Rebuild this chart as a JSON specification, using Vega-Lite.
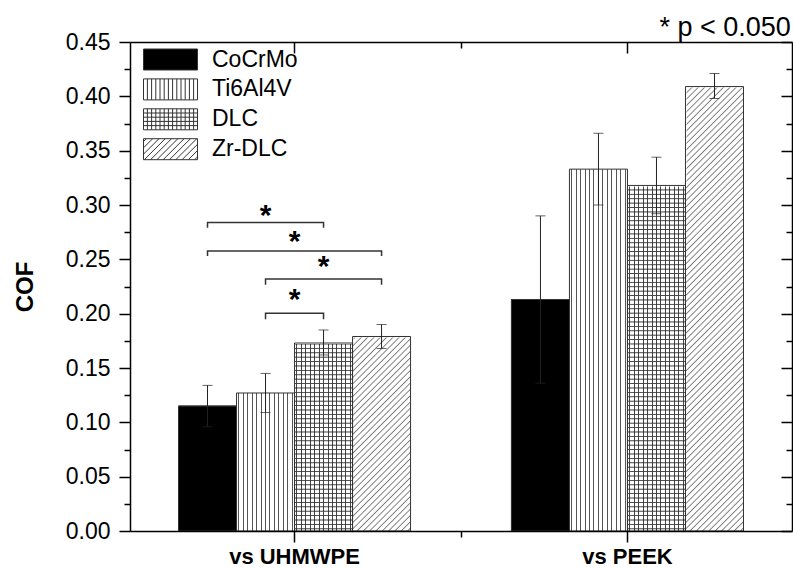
{
"$schema": "https://vega.github.io/schema/vega-lite/v6.json",
"width": 662, "height": 489,
"autosize": "none",
"padding": {"left": 130, "top": 42, "right": 1, "bottom": 37},
"background": "white",
"title": {"text": "* p < 0.050", "anchor": "end", "font": "Liberation Sans", "fontSize": 27, "fontWeight": "normal", "color": "black", "offset": 3, "dx": -4, "dy": 14},
"config": {"view": {"stroke": null}, "axis": {"grid": false}, "font": "Liberation Sans"},
"datasets": {
"bars": [
{"group": "vs UHMWPE", "material": "CoCrMo", "value": 0.115, "lo": 0.096, "hi": 0.134},
{"group": "vs UHMWPE", "material": "Ti6Al4V", "value": 0.127, "lo": 0.109, "hi": 0.145},
{"group": "vs UHMWPE", "material": "DLC", "value": 0.173, "lo": 0.162, "hi": 0.185},
{"group": "vs UHMWPE", "material": "Zr-DLC", "value": 0.179, "lo": 0.168, "hi": 0.190},
{"group": "vs PEEK", "material": "CoCrMo", "value": 0.213, "lo": 0.136, "hi": 0.290},
{"group": "vs PEEK", "material": "Ti6Al4V", "value": 0.333, "lo": 0.300, "hi": 0.366},
{"group": "vs PEEK", "material": "DLC", "value": 0.318, "lo": 0.292, "hi": 0.344},
{"group": "vs PEEK", "material": "Zr-DLC", "value": 0.409, "lo": 0.398, "hi": 0.421}
],
"brackets": [
{"bracket": 1, "ord": 1, "group": "vs UHMWPE", "material": "CoCrMo", "y": 0.279},
{"bracket": 1, "ord": 2, "group": "vs UHMWPE", "material": "CoCrMo", "y": 0.284},
{"bracket": 1, "ord": 3, "group": "vs UHMWPE", "material": "DLC", "y": 0.284},
{"bracket": 1, "ord": 4, "group": "vs UHMWPE", "material": "DLC", "y": 0.279},
{"bracket": 2, "ord": 1, "group": "vs UHMWPE", "material": "CoCrMo", "y": 0.253},
{"bracket": 2, "ord": 2, "group": "vs UHMWPE", "material": "CoCrMo", "y": 0.2577},
{"bracket": 2, "ord": 3, "group": "vs UHMWPE", "material": "Zr-DLC", "y": 0.2577},
{"bracket": 2, "ord": 4, "group": "vs UHMWPE", "material": "Zr-DLC", "y": 0.253},
{"bracket": 3, "ord": 1, "group": "vs UHMWPE", "material": "Ti6Al4V", "y": 0.2267},
{"bracket": 3, "ord": 2, "group": "vs UHMWPE", "material": "Ti6Al4V", "y": 0.2319},
{"bracket": 3, "ord": 3, "group": "vs UHMWPE", "material": "Zr-DLC", "y": 0.2319},
{"bracket": 3, "ord": 4, "group": "vs UHMWPE", "material": "Zr-DLC", "y": 0.2267},
{"bracket": 4, "ord": 1, "group": "vs UHMWPE", "material": "Ti6Al4V", "y": 0.1948},
{"bracket": 4, "ord": 2, "group": "vs UHMWPE", "material": "Ti6Al4V", "y": 0.2003},
{"bracket": 4, "ord": 3, "group": "vs UHMWPE", "material": "DLC", "y": 0.2003},
{"bracket": 4, "ord": 4, "group": "vs UHMWPE", "material": "DLC", "y": 0.1948}
],
"stars": [
{"group": "vs UHMWPE", "material": "Ti6Al4V", "pos": "bar", "y": 0.2938, "label": "*"},
{"group": "vs UHMWPE", "material": "DLC", "pos": "bar", "y": 0.2469, "label": "*"},
{"group": "vs UHMWPE", "material": "", "pos": "mid", "y": 0.2703, "label": "*"},
{"group": "vs UHMWPE", "material": "", "pos": "mid", "y": 0.2165, "label": "*"}
]
},
"resolve": {"axis": {"x": "independent", "y": "independent"}},
"layer": [
{
"data": {"name": "bars"},
"transform": [{"filter": "datum.material === 'CoCrMo'"}],
"mark": {"type": "bar", "fill": "black", "stroke": "#222", "strokeWidth": 1},
"encoding": {
"x": {"field": "group", "type": "nominal", "scale": {"type": "band", "domain": ["vs UHMWPE", "vs PEEK"], "paddingInner": 0.303, "paddingOuter": 0.1457},
 "axis": {"orient": "bottom", "title": null, "labelAngle": 0, "labelFont": "Liberation Sans", "labelFontSize": 22, "labelFontWeight": "bold", "labelColor": "black", "labelPadding": 4, "tickSize": 11, "tickWidth": 1.5, "tickColor": "black", "domain": true, "domainColor": "black", "domainWidth": 1.5, "zindex": 1}},
"xOffset": {"field": "material", "type": "nominal", "scale": {"type": "band", "domain": ["CoCrMo", "Ti6Al4V", "DLC", "Zr-DLC"], "paddingInner": 0, "paddingOuter": 0}},
"y": {"field": "value", "type": "quantitative", "scale": {"domain": [0, 0.45], "nice": false, "zero": true},
 "axis": {"orient": "left", "title": "COF", "titleFont": "Liberation Sans", "titleFontSize": 24, "titleFontWeight": "bold", "titleColor": "black", "titlePadding": 28, "values": [0, 0.05, 0.1, 0.15, 0.2, 0.25, 0.3, 0.35, 0.4, 0.45], "format": ".2f", "labelFont": "Liberation Sans", "labelFontSize": 23, "labelColor": "black", "labelPadding": 9, "tickSize": 11, "tickWidth": 1.5, "tickColor": "black", "domainColor": "black", "domainWidth": 1.5, "zindex": 1}}
}
},
{
"data": {"name": "bars"},
"transform": [{"filter": "datum.material === 'Ti6Al4V'"}],
"mark": {"type": "bar", "strokeWidth": 0, "fill": {"gradient": "linear", "x1": 0, "y1": 0, "x2": 1, "y2": 0, "stops": [
{"offset": 0, "color": "#fff"},
{"offset": 0.0299, "color": "#fff"}, {"offset": 0.0299, "color": "#555"}, {"offset": 0.0471, "color": "#555"}, {"offset": 0.0471, "color": "#fff"},
{"offset": 0.1068, "color": "#fff"}, {"offset": 0.1068, "color": "#555"}, {"offset": 0.124, "color": "#555"}, {"offset": 0.124, "color": "#fff"},
{"offset": 0.1837, "color": "#fff"}, {"offset": 0.1837, "color": "#555"}, {"offset": 0.2009, "color": "#555"}, {"offset": 0.2009, "color": "#fff"},
{"offset": 0.2606, "color": "#fff"}, {"offset": 0.2606, "color": "#555"}, {"offset": 0.2778, "color": "#555"}, {"offset": 0.2778, "color": "#fff"},
{"offset": 0.3376, "color": "#fff"}, {"offset": 0.3376, "color": "#555"}, {"offset": 0.3548, "color": "#555"}, {"offset": 0.3548, "color": "#fff"},
{"offset": 0.4145, "color": "#fff"}, {"offset": 0.4145, "color": "#555"}, {"offset": 0.4317, "color": "#555"}, {"offset": 0.4317, "color": "#fff"},
{"offset": 0.4914, "color": "#fff"}, {"offset": 0.4914, "color": "#555"}, {"offset": 0.5086, "color": "#555"}, {"offset": 0.5086, "color": "#fff"},
{"offset": 0.5683, "color": "#fff"}, {"offset": 0.5683, "color": "#555"}, {"offset": 0.5855, "color": "#555"}, {"offset": 0.5855, "color": "#fff"},
{"offset": 0.6452, "color": "#fff"}, {"offset": 0.6452, "color": "#555"}, {"offset": 0.6624, "color": "#555"}, {"offset": 0.6624, "color": "#fff"},
{"offset": 0.7222, "color": "#fff"}, {"offset": 0.7222, "color": "#555"}, {"offset": 0.7394, "color": "#555"}, {"offset": 0.7394, "color": "#fff"},
{"offset": 0.7991, "color": "#fff"}, {"offset": 0.7991, "color": "#555"}, {"offset": 0.8163, "color": "#555"}, {"offset": 0.8163, "color": "#fff"},
{"offset": 0.876, "color": "#fff"}, {"offset": 0.876, "color": "#555"}, {"offset": 0.8932, "color": "#555"}, {"offset": 0.8932, "color": "#fff"},
{"offset": 0.9529, "color": "#fff"}, {"offset": 0.9529, "color": "#555"}, {"offset": 0.9701, "color": "#555"}, {"offset": 0.9701, "color": "#fff"},
{"offset": 1, "color": "#fff"}]}},
"encoding": {
"x": {"field": "group", "type": "nominal", "scale": {"type": "band", "domain": ["vs UHMWPE", "vs PEEK"], "paddingInner": 0.303, "paddingOuter": 0.1457},
 "axis": {"orient": "bottom", "title": null, "labels": false, "domain": false, "tickSize": 6, "tickWidth": 1.5, "tickColor": "black", "tickOffset": 166.5, "zindex": 1}},
"xOffset": {"field": "material", "type": "nominal", "scale": {"type": "band", "domain": ["CoCrMo", "Ti6Al4V", "DLC", "Zr-DLC"], "paddingInner": 0, "paddingOuter": 0}},
"y": {"field": "value", "type": "quantitative", "scale": {"domain": [0, 0.45], "nice": false, "zero": true},
 "axis": {"orient": "left", "title": null, "labels": false, "domain": false, "values": [0.025, 0.075, 0.125, 0.175, 0.225, 0.275, 0.325, 0.375, 0.425], "tickSize": 6, "tickWidth": 1.5, "tickColor": "black", "zindex": 1}}
}
},
{
"data": {"name": "bars"},
"transform": [{"filter": "datum.material === 'DLC'"}],
"mark": {"type": "bar", "strokeWidth": 0, "fill": {"gradient": "linear", "x1": 0, "y1": 0, "x2": 1, "y2": 0, "stops": [
{"offset": 0, "color": "#fff"},
{"offset": 0.0299, "color": "#fff"}, {"offset": 0.0299, "color": "#444"}, {"offset": 0.0471, "color": "#444"}, {"offset": 0.0471, "color": "#fff"},
{"offset": 0.1068, "color": "#fff"}, {"offset": 0.1068, "color": "#444"}, {"offset": 0.124, "color": "#444"}, {"offset": 0.124, "color": "#fff"},
{"offset": 0.1837, "color": "#fff"}, {"offset": 0.1837, "color": "#444"}, {"offset": 0.2009, "color": "#444"}, {"offset": 0.2009, "color": "#fff"},
{"offset": 0.2606, "color": "#fff"}, {"offset": 0.2606, "color": "#444"}, {"offset": 0.2778, "color": "#444"}, {"offset": 0.2778, "color": "#fff"},
{"offset": 0.3376, "color": "#fff"}, {"offset": 0.3376, "color": "#444"}, {"offset": 0.3548, "color": "#444"}, {"offset": 0.3548, "color": "#fff"},
{"offset": 0.4145, "color": "#fff"}, {"offset": 0.4145, "color": "#444"}, {"offset": 0.4317, "color": "#444"}, {"offset": 0.4317, "color": "#fff"},
{"offset": 0.4914, "color": "#fff"}, {"offset": 0.4914, "color": "#444"}, {"offset": 0.5086, "color": "#444"}, {"offset": 0.5086, "color": "#fff"},
{"offset": 0.5683, "color": "#fff"}, {"offset": 0.5683, "color": "#444"}, {"offset": 0.5855, "color": "#444"}, {"offset": 0.5855, "color": "#fff"},
{"offset": 0.6452, "color": "#fff"}, {"offset": 0.6452, "color": "#444"}, {"offset": 0.6624, "color": "#444"}, {"offset": 0.6624, "color": "#fff"},
{"offset": 0.7222, "color": "#fff"}, {"offset": 0.7222, "color": "#444"}, {"offset": 0.7394, "color": "#444"}, {"offset": 0.7394, "color": "#fff"},
{"offset": 0.7991, "color": "#fff"}, {"offset": 0.7991, "color": "#444"}, {"offset": 0.8163, "color": "#444"}, {"offset": 0.8163, "color": "#fff"},
{"offset": 0.876, "color": "#fff"}, {"offset": 0.876, "color": "#444"}, {"offset": 0.8932, "color": "#444"}, {"offset": 0.8932, "color": "#fff"},
{"offset": 0.9529, "color": "#fff"}, {"offset": 0.9529, "color": "#444"}, {"offset": 0.9701, "color": "#444"}, {"offset": 0.9701, "color": "#fff"},
{"offset": 1, "color": "#fff"}]}},
"encoding": {
"x": {"field": "group", "type": "nominal", "scale": {"type": "band", "domain": ["vs UHMWPE", "vs PEEK"], "paddingInner": 0.303, "paddingOuter": 0.1457},
 "axis": {"orient": "top", "title": null, "labels": false, "tickSize": -11, "tickWidth": 1.5, "tickColor": "black", "domainColor": "black", "domainWidth": 1.5, "zindex": 1}},
"xOffset": {"field": "material", "type": "nominal", "scale": {"type": "band", "domain": ["CoCrMo", "Ti6Al4V", "DLC", "Zr-DLC"], "paddingInner": 0, "paddingOuter": 0}},
"y": {"field": "value", "type": "quantitative", "scale": {"domain": [0, 0.45], "nice": false, "zero": true},
 "axis": {"orient": "right", "title": null, "labels": false, "values": [0, 0.05, 0.1, 0.15, 0.2, 0.25, 0.3, 0.35, 0.4, 0.45], "tickSize": -11, "tickWidth": 1.5, "tickColor": "black", "domainColor": "black", "domainWidth": 1.5, "zindex": 1}}
}
},
{
"data": {"name": "bars"},
"transform": [{"filter": "datum.material === 'DLC'"}],
"mark": {"type": "bar", "strokeWidth": 0, "fill": {"gradient": "linear", "x1": 0, "y1": 0, "x2": 0, "y2": 1, "stops": [
{"offset": 0.00375, "color": "transparent"}, {"offset": 0.00625, "color": "#444"}, {"offset": 0.00875, "color": "transparent"},
{"offset": 0.01625, "color": "transparent"}, {"offset": 0.01875, "color": "#444"}, {"offset": 0.02125, "color": "transparent"},
{"offset": 0.02875, "color": "transparent"}, {"offset": 0.03125, "color": "#444"}, {"offset": 0.03375, "color": "transparent"},
{"offset": 0.04125, "color": "transparent"}, {"offset": 0.04375, "color": "#444"}, {"offset": 0.04625, "color": "transparent"},
{"offset": 0.05375, "color": "transparent"}, {"offset": 0.05625, "color": "#444"}, {"offset": 0.05875, "color": "transparent"},
{"offset": 0.06625, "color": "transparent"}, {"offset": 0.06875, "color": "#444"}, {"offset": 0.07125, "color": "transparent"},
{"offset": 0.07875, "color": "transparent"}, {"offset": 0.08125, "color": "#444"}, {"offset": 0.08375, "color": "transparent"},
{"offset": 0.09125, "color": "transparent"}, {"offset": 0.09375, "color": "#444"}, {"offset": 0.09625, "color": "transparent"},
{"offset": 0.10375, "color": "transparent"}, {"offset": 0.10625, "color": "#444"}, {"offset": 0.10875, "color": "transparent"},
{"offset": 0.11625, "color": "transparent"}, {"offset": 0.11875, "color": "#444"}, {"offset": 0.12125, "color": "transparent"},
{"offset": 0.12875, "color": "transparent"}, {"offset": 0.13125, "color": "#444"}, {"offset": 0.13375, "color": "transparent"},
{"offset": 0.14125, "color": "transparent"}, {"offset": 0.14375, "color": "#444"}, {"offset": 0.14625, "color": "transparent"},
{"offset": 0.15375, "color": "transparent"}, {"offset": 0.15625, "color": "#444"}, {"offset": 0.15875, "color": "transparent"},
{"offset": 0.16625, "color": "transparent"}, {"offset": 0.16875, "color": "#444"}, {"offset": 0.17125, "color": "transparent"},
{"offset": 0.17875, "color": "transparent"}, {"offset": 0.18125, "color": "#444"}, {"offset": 0.18375, "color": "transparent"},
{"offset": 0.19125, "color": "transparent"}, {"offset": 0.19375, "color": "#444"}, {"offset": 0.19625, "color": "transparent"},
{"offset": 0.20375, "color": "transparent"}, {"offset": 0.20625, "color": "#444"}, {"offset": 0.20875, "color": "transparent"},
{"offset": 0.21625, "color": "transparent"}, {"offset": 0.21875, "color": "#444"}, {"offset": 0.22125, "color": "transparent"},
{"offset": 0.22875, "color": "transparent"}, {"offset": 0.23125, "color": "#444"}, {"offset": 0.23375, "color": "transparent"},
{"offset": 0.24125, "color": "transparent"}, {"offset": 0.24375, "color": "#444"}, {"offset": 0.24625, "color": "transparent"},
{"offset": 0.25375, "color": "transparent"}, {"offset": 0.25625, "color": "#444"}, {"offset": 0.25875, "color": "transparent"},
{"offset": 0.26625, "color": "transparent"}, {"offset": 0.26875, "color": "#444"}, {"offset": 0.27125, "color": "transparent"},
{"offset": 0.27875, "color": "transparent"}, {"offset": 0.28125, "color": "#444"}, {"offset": 0.28375, "color": "transparent"},
{"offset": 0.29125, "color": "transparent"}, {"offset": 0.29375, "color": "#444"}, {"offset": 0.29625, "color": "transparent"},
{"offset": 0.30375, "color": "transparent"}, {"offset": 0.30625, "color": "#444"}, {"offset": 0.30875, "color": "transparent"},
{"offset": 0.31625, "color": "transparent"}, {"offset": 0.31875, "color": "#444"}, {"offset": 0.32125, "color": "transparent"},
{"offset": 0.32875, "color": "transparent"}, {"offset": 0.33125, "color": "#444"}, {"offset": 0.33375, "color": "transparent"},
{"offset": 0.34125, "color": "transparent"}, {"offset": 0.34375, "color": "#444"}, {"offset": 0.34625, "color": "transparent"},
{"offset": 0.35375, "color": "transparent"}, {"offset": 0.35625, "color": "#444"}, {"offset": 0.35875, "color": "transparent"},
{"offset": 0.36625, "color": "transparent"}, {"offset": 0.36875, "color": "#444"}, {"offset": 0.37125, "color": "transparent"},
{"offset": 0.37875, "color": "transparent"}, {"offset": 0.38125, "color": "#444"}, {"offset": 0.38375, "color": "transparent"},
{"offset": 0.39125, "color": "transparent"}, {"offset": 0.39375, "color": "#444"}, {"offset": 0.39625, "color": "transparent"},
{"offset": 0.40375, "color": "transparent"}, {"offset": 0.40625, "color": "#444"}, {"offset": 0.40875, "color": "transparent"},
{"offset": 0.41625, "color": "transparent"}, {"offset": 0.41875, "color": "#444"}, {"offset": 0.42125, "color": "transparent"},
{"offset": 0.42875, "color": "transparent"}, {"offset": 0.43125, "color": "#444"}, {"offset": 0.43375, "color": "transparent"},
{"offset": 0.44125, "color": "transparent"}, {"offset": 0.44375, "color": "#444"}, {"offset": 0.44625, "color": "transparent"},
{"offset": 0.45375, "color": "transparent"}, {"offset": 0.45625, "color": "#444"}, {"offset": 0.45875, "color": "transparent"},
{"offset": 0.46625, "color": "transparent"}, {"offset": 0.46875, "color": "#444"}, {"offset": 0.47125, "color": "transparent"},
{"offset": 0.47875, "color": "transparent"}, {"offset": 0.48125, "color": "#444"}, {"offset": 0.48375, "color": "transparent"},
{"offset": 0.49125, "color": "transparent"}, {"offset": 0.49375, "color": "#444"}, {"offset": 0.49625, "color": "transparent"},
{"offset": 0.50375, "color": "transparent"}, {"offset": 0.50625, "color": "#444"}, {"offset": 0.50875, "color": "transparent"},
{"offset": 0.51625, "color": "transparent"}, {"offset": 0.51875, "color": "#444"}, {"offset": 0.52125, "color": "transparent"},
{"offset": 0.52875, "color": "transparent"}, {"offset": 0.53125, "color": "#444"}, {"offset": 0.53375, "color": "transparent"},
{"offset": 0.54125, "color": "transparent"}, {"offset": 0.54375, "color": "#444"}, {"offset": 0.54625, "color": "transparent"},
{"offset": 0.55375, "color": "transparent"}, {"offset": 0.55625, "color": "#444"}, {"offset": 0.55875, "color": "transparent"},
{"offset": 0.56625, "color": "transparent"}, {"offset": 0.56875, "color": "#444"}, {"offset": 0.57125, "color": "transparent"},
{"offset": 0.57875, "color": "transparent"}, {"offset": 0.58125, "color": "#444"}, {"offset": 0.58375, "color": "transparent"},
{"offset": 0.59125, "color": "transparent"}, {"offset": 0.59375, "color": "#444"}, {"offset": 0.59625, "color": "transparent"},
{"offset": 0.60375, "color": "transparent"}, {"offset": 0.60625, "color": "#444"}, {"offset": 0.60875, "color": "transparent"},
{"offset": 0.61625, "color": "transparent"}, {"offset": 0.61875, "color": "#444"}, {"offset": 0.62125, "color": "transparent"},
{"offset": 0.62875, "color": "transparent"}, {"offset": 0.63125, "color": "#444"}, {"offset": 0.63375, "color": "transparent"},
{"offset": 0.64125, "color": "transparent"}, {"offset": 0.64375, "color": "#444"}, {"offset": 0.64625, "color": "transparent"},
{"offset": 0.65375, "color": "transparent"}, {"offset": 0.65625, "color": "#444"}, {"offset": 0.65875, "color": "transparent"},
{"offset": 0.66625, "color": "transparent"}, {"offset": 0.66875, "color": "#444"}, {"offset": 0.67125, "color": "transparent"},
{"offset": 0.67875, "color": "transparent"}, {"offset": 0.68125, "color": "#444"}, {"offset": 0.68375, "color": "transparent"},
{"offset": 0.69125, "color": "transparent"}, {"offset": 0.69375, "color": "#444"}, {"offset": 0.69625, "color": "transparent"},
{"offset": 0.70375, "color": "transparent"}, {"offset": 0.70625, "color": "#444"}, {"offset": 0.70875, "color": "transparent"},
{"offset": 0.71625, "color": "transparent"}, {"offset": 0.71875, "color": "#444"}, {"offset": 0.72125, "color": "transparent"},
{"offset": 0.72875, "color": "transparent"}, {"offset": 0.73125, "color": "#444"}, {"offset": 0.73375, "color": "transparent"},
{"offset": 0.74125, "color": "transparent"}, {"offset": 0.74375, "color": "#444"}, {"offset": 0.74625, "color": "transparent"},
{"offset": 0.75375, "color": "transparent"}, {"offset": 0.75625, "color": "#444"}, {"offset": 0.75875, "color": "transparent"},
{"offset": 0.76625, "color": "transparent"}, {"offset": 0.76875, "color": "#444"}, {"offset": 0.77125, "color": "transparent"},
{"offset": 0.77875, "color": "transparent"}, {"offset": 0.78125, "color": "#444"}, {"offset": 0.78375, "color": "transparent"},
{"offset": 0.79125, "color": "transparent"}, {"offset": 0.79375, "color": "#444"}, {"offset": 0.79625, "color": "transparent"},
{"offset": 0.80375, "color": "transparent"}, {"offset": 0.80625, "color": "#444"}, {"offset": 0.80875, "color": "transparent"},
{"offset": 0.81625, "color": "transparent"}, {"offset": 0.81875, "color": "#444"}, {"offset": 0.82125, "color": "transparent"},
{"offset": 0.82875, "color": "transparent"}, {"offset": 0.83125, "color": "#444"}, {"offset": 0.83375, "color": "transparent"},
{"offset": 0.84125, "color": "transparent"}, {"offset": 0.84375, "color": "#444"}, {"offset": 0.84625, "color": "transparent"},
{"offset": 0.85375, "color": "transparent"}, {"offset": 0.85625, "color": "#444"}, {"offset": 0.85875, "color": "transparent"},
{"offset": 0.86625, "color": "transparent"}, {"offset": 0.86875, "color": "#444"}, {"offset": 0.87125, "color": "transparent"},
{"offset": 0.87875, "color": "transparent"}, {"offset": 0.88125, "color": "#444"}, {"offset": 0.88375, "color": "transparent"},
{"offset": 0.89125, "color": "transparent"}, {"offset": 0.89375, "color": "#444"}, {"offset": 0.89625, "color": "transparent"},
{"offset": 0.90375, "color": "transparent"}, {"offset": 0.90625, "color": "#444"}, {"offset": 0.90875, "color": "transparent"},
{"offset": 0.91625, "color": "transparent"}, {"offset": 0.91875, "color": "#444"}, {"offset": 0.92125, "color": "transparent"},
{"offset": 0.92875, "color": "transparent"}, {"offset": 0.93125, "color": "#444"}, {"offset": 0.93375, "color": "transparent"},
{"offset": 0.94125, "color": "transparent"}, {"offset": 0.94375, "color": "#444"}, {"offset": 0.94625, "color": "transparent"},
{"offset": 0.95375, "color": "transparent"}, {"offset": 0.95625, "color": "#444"}, {"offset": 0.95875, "color": "transparent"},
{"offset": 0.96625, "color": "transparent"}, {"offset": 0.96875, "color": "#444"}, {"offset": 0.97125, "color": "transparent"},
{"offset": 0.97875, "color": "transparent"}, {"offset": 0.98125, "color": "#444"}, {"offset": 0.98375, "color": "transparent"},
{"offset": 0.99125, "color": "transparent"}, {"offset": 0.99375, "color": "#444"}, {"offset": 0.99625, "color": "transparent"}
]}},
"encoding": {
"x": {"field": "group", "type": "nominal", "scale": {"type": "band", "domain": ["vs UHMWPE", "vs PEEK"], "paddingInner": 0.303, "paddingOuter": 0.1457},
 "axis": {"orient": "top", "title": null, "labels": false, "domain": false, "tickSize": -6, "tickWidth": 1.5, "tickColor": "black", "tickOffset": 166.5, "zindex": 1}},
"xOffset": {"field": "material", "type": "nominal", "scale": {"type": "band", "domain": ["CoCrMo", "Ti6Al4V", "DLC", "Zr-DLC"], "paddingInner": 0, "paddingOuter": 0}},
"y": {"datum": 0.324, "type": "quantitative", "scale": {"domain": [0, 0.45], "nice": false, "zero": true},
 "axis": {"orient": "right", "title": null, "labels": false, "domain": false, "values": [0.025, 0.075, 0.125, 0.175, 0.225, 0.275, 0.325, 0.375, 0.425], "tickSize": -6, "tickWidth": 1.5, "tickColor": "black", "zindex": 1}}
}
},
{
"data": {"name": "bars"},
"transform": [{"filter": "datum.material === 'Zr-DLC'"}],
"mark": {"type": "bar", "strokeWidth": 0, "fill": {"gradient": "linear", "x1": 0, "y1": 0, "x2": 0.14433, "y2": 1.1112, "stops": [
{"offset": 0.00375, "color": "#fff"}, {"offset": 0.00625, "color": "#777"}, {"offset": 0.00875, "color": "#fff"},
{"offset": 0.01625, "color": "#fff"}, {"offset": 0.01875, "color": "#777"}, {"offset": 0.02125, "color": "#fff"},
{"offset": 0.02875, "color": "#fff"}, {"offset": 0.03125, "color": "#777"}, {"offset": 0.03375, "color": "#fff"},
{"offset": 0.04125, "color": "#fff"}, {"offset": 0.04375, "color": "#777"}, {"offset": 0.04625, "color": "#fff"},
{"offset": 0.05375, "color": "#fff"}, {"offset": 0.05625, "color": "#777"}, {"offset": 0.05875, "color": "#fff"},
{"offset": 0.06625, "color": "#fff"}, {"offset": 0.06875, "color": "#777"}, {"offset": 0.07125, "color": "#fff"},
{"offset": 0.07875, "color": "#fff"}, {"offset": 0.08125, "color": "#777"}, {"offset": 0.08375, "color": "#fff"},
{"offset": 0.09125, "color": "#fff"}, {"offset": 0.09375, "color": "#777"}, {"offset": 0.09625, "color": "#fff"},
{"offset": 0.10375, "color": "#fff"}, {"offset": 0.10625, "color": "#777"}, {"offset": 0.10875, "color": "#fff"},
{"offset": 0.11625, "color": "#fff"}, {"offset": 0.11875, "color": "#777"}, {"offset": 0.12125, "color": "#fff"},
{"offset": 0.12875, "color": "#fff"}, {"offset": 0.13125, "color": "#777"}, {"offset": 0.13375, "color": "#fff"},
{"offset": 0.14125, "color": "#fff"}, {"offset": 0.14375, "color": "#777"}, {"offset": 0.14625, "color": "#fff"},
{"offset": 0.15375, "color": "#fff"}, {"offset": 0.15625, "color": "#777"}, {"offset": 0.15875, "color": "#fff"},
{"offset": 0.16625, "color": "#fff"}, {"offset": 0.16875, "color": "#777"}, {"offset": 0.17125, "color": "#fff"},
{"offset": 0.17875, "color": "#fff"}, {"offset": 0.18125, "color": "#777"}, {"offset": 0.18375, "color": "#fff"},
{"offset": 0.19125, "color": "#fff"}, {"offset": 0.19375, "color": "#777"}, {"offset": 0.19625, "color": "#fff"},
{"offset": 0.20375, "color": "#fff"}, {"offset": 0.20625, "color": "#777"}, {"offset": 0.20875, "color": "#fff"},
{"offset": 0.21625, "color": "#fff"}, {"offset": 0.21875, "color": "#777"}, {"offset": 0.22125, "color": "#fff"},
{"offset": 0.22875, "color": "#fff"}, {"offset": 0.23125, "color": "#777"}, {"offset": 0.23375, "color": "#fff"},
{"offset": 0.24125, "color": "#fff"}, {"offset": 0.24375, "color": "#777"}, {"offset": 0.24625, "color": "#fff"},
{"offset": 0.25375, "color": "#fff"}, {"offset": 0.25625, "color": "#777"}, {"offset": 0.25875, "color": "#fff"},
{"offset": 0.26625, "color": "#fff"}, {"offset": 0.26875, "color": "#777"}, {"offset": 0.27125, "color": "#fff"},
{"offset": 0.27875, "color": "#fff"}, {"offset": 0.28125, "color": "#777"}, {"offset": 0.28375, "color": "#fff"},
{"offset": 0.29125, "color": "#fff"}, {"offset": 0.29375, "color": "#777"}, {"offset": 0.29625, "color": "#fff"},
{"offset": 0.30375, "color": "#fff"}, {"offset": 0.30625, "color": "#777"}, {"offset": 0.30875, "color": "#fff"},
{"offset": 0.31625, "color": "#fff"}, {"offset": 0.31875, "color": "#777"}, {"offset": 0.32125, "color": "#fff"},
{"offset": 0.32875, "color": "#fff"}, {"offset": 0.33125, "color": "#777"}, {"offset": 0.33375, "color": "#fff"},
{"offset": 0.34125, "color": "#fff"}, {"offset": 0.34375, "color": "#777"}, {"offset": 0.34625, "color": "#fff"},
{"offset": 0.35375, "color": "#fff"}, {"offset": 0.35625, "color": "#777"}, {"offset": 0.35875, "color": "#fff"},
{"offset": 0.36625, "color": "#fff"}, {"offset": 0.36875, "color": "#777"}, {"offset": 0.37125, "color": "#fff"},
{"offset": 0.37875, "color": "#fff"}, {"offset": 0.38125, "color": "#777"}, {"offset": 0.38375, "color": "#fff"},
{"offset": 0.39125, "color": "#fff"}, {"offset": 0.39375, "color": "#777"}, {"offset": 0.39625, "color": "#fff"},
{"offset": 0.40375, "color": "#fff"}, {"offset": 0.40625, "color": "#777"}, {"offset": 0.40875, "color": "#fff"},
{"offset": 0.41625, "color": "#fff"}, {"offset": 0.41875, "color": "#777"}, {"offset": 0.42125, "color": "#fff"},
{"offset": 0.42875, "color": "#fff"}, {"offset": 0.43125, "color": "#777"}, {"offset": 0.43375, "color": "#fff"},
{"offset": 0.44125, "color": "#fff"}, {"offset": 0.44375, "color": "#777"}, {"offset": 0.44625, "color": "#fff"},
{"offset": 0.45375, "color": "#fff"}, {"offset": 0.45625, "color": "#777"}, {"offset": 0.45875, "color": "#fff"},
{"offset": 0.46625, "color": "#fff"}, {"offset": 0.46875, "color": "#777"}, {"offset": 0.47125, "color": "#fff"},
{"offset": 0.47875, "color": "#fff"}, {"offset": 0.48125, "color": "#777"}, {"offset": 0.48375, "color": "#fff"},
{"offset": 0.49125, "color": "#fff"}, {"offset": 0.49375, "color": "#777"}, {"offset": 0.49625, "color": "#fff"},
{"offset": 0.50375, "color": "#fff"}, {"offset": 0.50625, "color": "#777"}, {"offset": 0.50875, "color": "#fff"},
{"offset": 0.51625, "color": "#fff"}, {"offset": 0.51875, "color": "#777"}, {"offset": 0.52125, "color": "#fff"},
{"offset": 0.52875, "color": "#fff"}, {"offset": 0.53125, "color": "#777"}, {"offset": 0.53375, "color": "#fff"},
{"offset": 0.54125, "color": "#fff"}, {"offset": 0.54375, "color": "#777"}, {"offset": 0.54625, "color": "#fff"},
{"offset": 0.55375, "color": "#fff"}, {"offset": 0.55625, "color": "#777"}, {"offset": 0.55875, "color": "#fff"},
{"offset": 0.56625, "color": "#fff"}, {"offset": 0.56875, "color": "#777"}, {"offset": 0.57125, "color": "#fff"},
{"offset": 0.57875, "color": "#fff"}, {"offset": 0.58125, "color": "#777"}, {"offset": 0.58375, "color": "#fff"},
{"offset": 0.59125, "color": "#fff"}, {"offset": 0.59375, "color": "#777"}, {"offset": 0.59625, "color": "#fff"},
{"offset": 0.60375, "color": "#fff"}, {"offset": 0.60625, "color": "#777"}, {"offset": 0.60875, "color": "#fff"},
{"offset": 0.61625, "color": "#fff"}, {"offset": 0.61875, "color": "#777"}, {"offset": 0.62125, "color": "#fff"},
{"offset": 0.62875, "color": "#fff"}, {"offset": 0.63125, "color": "#777"}, {"offset": 0.63375, "color": "#fff"},
{"offset": 0.64125, "color": "#fff"}, {"offset": 0.64375, "color": "#777"}, {"offset": 0.64625, "color": "#fff"},
{"offset": 0.65375, "color": "#fff"}, {"offset": 0.65625, "color": "#777"}, {"offset": 0.65875, "color": "#fff"},
{"offset": 0.66625, "color": "#fff"}, {"offset": 0.66875, "color": "#777"}, {"offset": 0.67125, "color": "#fff"},
{"offset": 0.67875, "color": "#fff"}, {"offset": 0.68125, "color": "#777"}, {"offset": 0.68375, "color": "#fff"},
{"offset": 0.69125, "color": "#fff"}, {"offset": 0.69375, "color": "#777"}, {"offset": 0.69625, "color": "#fff"},
{"offset": 0.70375, "color": "#fff"}, {"offset": 0.70625, "color": "#777"}, {"offset": 0.70875, "color": "#fff"},
{"offset": 0.71625, "color": "#fff"}, {"offset": 0.71875, "color": "#777"}, {"offset": 0.72125, "color": "#fff"},
{"offset": 0.72875, "color": "#fff"}, {"offset": 0.73125, "color": "#777"}, {"offset": 0.73375, "color": "#fff"},
{"offset": 0.74125, "color": "#fff"}, {"offset": 0.74375, "color": "#777"}, {"offset": 0.74625, "color": "#fff"},
{"offset": 0.75375, "color": "#fff"}, {"offset": 0.75625, "color": "#777"}, {"offset": 0.75875, "color": "#fff"},
{"offset": 0.76625, "color": "#fff"}, {"offset": 0.76875, "color": "#777"}, {"offset": 0.77125, "color": "#fff"},
{"offset": 0.77875, "color": "#fff"}, {"offset": 0.78125, "color": "#777"}, {"offset": 0.78375, "color": "#fff"},
{"offset": 0.79125, "color": "#fff"}, {"offset": 0.79375, "color": "#777"}, {"offset": 0.79625, "color": "#fff"},
{"offset": 0.80375, "color": "#fff"}, {"offset": 0.80625, "color": "#777"}, {"offset": 0.80875, "color": "#fff"},
{"offset": 0.81625, "color": "#fff"}, {"offset": 0.81875, "color": "#777"}, {"offset": 0.82125, "color": "#fff"},
{"offset": 0.82875, "color": "#fff"}, {"offset": 0.83125, "color": "#777"}, {"offset": 0.83375, "color": "#fff"},
{"offset": 0.84125, "color": "#fff"}, {"offset": 0.84375, "color": "#777"}, {"offset": 0.84625, "color": "#fff"},
{"offset": 0.85375, "color": "#fff"}, {"offset": 0.85625, "color": "#777"}, {"offset": 0.85875, "color": "#fff"},
{"offset": 0.86625, "color": "#fff"}, {"offset": 0.86875, "color": "#777"}, {"offset": 0.87125, "color": "#fff"},
{"offset": 0.87875, "color": "#fff"}, {"offset": 0.88125, "color": "#777"}, {"offset": 0.88375, "color": "#fff"},
{"offset": 0.89125, "color": "#fff"}, {"offset": 0.89375, "color": "#777"}, {"offset": 0.89625, "color": "#fff"},
{"offset": 0.90375, "color": "#fff"}, {"offset": 0.90625, "color": "#777"}, {"offset": 0.90875, "color": "#fff"},
{"offset": 0.91625, "color": "#fff"}, {"offset": 0.91875, "color": "#777"}, {"offset": 0.92125, "color": "#fff"},
{"offset": 0.92875, "color": "#fff"}, {"offset": 0.93125, "color": "#777"}, {"offset": 0.93375, "color": "#fff"},
{"offset": 0.94125, "color": "#fff"}, {"offset": 0.94375, "color": "#777"}, {"offset": 0.94625, "color": "#fff"},
{"offset": 0.95375, "color": "#fff"}, {"offset": 0.95625, "color": "#777"}, {"offset": 0.95875, "color": "#fff"},
{"offset": 0.96625, "color": "#fff"}, {"offset": 0.96875, "color": "#777"}, {"offset": 0.97125, "color": "#fff"},
{"offset": 0.97875, "color": "#fff"}, {"offset": 0.98125, "color": "#777"}, {"offset": 0.98375, "color": "#fff"},
{"offset": 0.99125, "color": "#fff"}, {"offset": 0.99375, "color": "#777"}, {"offset": 0.99625, "color": "#fff"}
]}},
"encoding": {
"x": {"field": "group", "type": "nominal", "scale": {"type": "band", "domain": ["vs UHMWPE", "vs PEEK"], "paddingInner": 0.303, "paddingOuter": 0.1457}, "axis": null},
"xOffset": {"field": "material", "type": "nominal", "scale": {"type": "band", "domain": ["CoCrMo", "Ti6Al4V", "DLC", "Zr-DLC"], "paddingInner": 0, "paddingOuter": 0}},
"y": {"datum": 0.411, "type": "quantitative", "scale": {"domain": [0, 0.45], "nice": false, "zero": true}, "axis": null}
}
},
{
"data": {"name": "bars"},
"transform": [{"filter": "datum.material === 'DLC' || datum.material === 'Zr-DLC'"}],
"mark": {"type": "bar", "fill": "white", "stroke": "white", "strokeWidth": 2},
"encoding": {
"x": {"field": "group", "type": "nominal", "scale": {"type": "band", "domain": ["vs UHMWPE", "vs PEEK"], "paddingInner": 0.303, "paddingOuter": 0.1457}, "axis": null},
"xOffset": {"field": "material", "type": "nominal", "scale": {"type": "band", "domain": ["CoCrMo", "Ti6Al4V", "DLC", "Zr-DLC"], "paddingInner": 0, "paddingOuter": 0}},
"y": {"field": "value", "type": "quantitative", "scale": {"domain": [0, 0.45], "nice": false, "zero": true}, "axis": null},
"y2": {"datum": 0.45}
}
},
{
"data": {"name": "bars"},
"mark": {"type": "bar", "fill": "white", "fillOpacity": 0, "stroke": "#333", "strokeWidth": 1},
"encoding": {
"x": {"field": "group", "type": "nominal", "scale": {"type": "band", "domain": ["vs UHMWPE", "vs PEEK"], "paddingInner": 0.303, "paddingOuter": 0.1457}, "axis": null},
"xOffset": {"field": "material", "type": "nominal", "scale": {"type": "band", "domain": ["CoCrMo", "Ti6Al4V", "DLC", "Zr-DLC"], "paddingInner": 0, "paddingOuter": 0}},
"y": {"field": "value", "type": "quantitative", "scale": {"domain": [0, 0.45], "nice": false, "zero": true}, "axis": null}
}
},
{
"data": {"name": "bars"},
"mark": {"type": "rule", "color": "#222", "strokeWidth": 1},
"encoding": {
"x": {"field": "group", "type": "nominal", "scale": {"type": "band", "domain": ["vs UHMWPE", "vs PEEK"], "paddingInner": 0.303, "paddingOuter": 0.1457}, "axis": null},
"xOffset": {"field": "material", "type": "nominal", "scale": {"type": "band", "domain": ["CoCrMo", "Ti6Al4V", "DLC", "Zr-DLC"], "paddingInner": 0, "paddingOuter": 0}},
"y": {"field": "lo", "type": "quantitative", "scale": {"domain": [0, 0.45], "nice": false, "zero": true}, "axis": null},
"y2": {"field": "hi"}
}
},
{
"data": {"name": "bars"},
"mark": {"type": "tick", "orient": "horizontal", "color": "#222", "size": 10, "thickness": 1},
"encoding": {
"x": {"field": "group", "type": "nominal", "scale": {"type": "band", "domain": ["vs UHMWPE", "vs PEEK"], "paddingInner": 0.303, "paddingOuter": 0.1457}, "axis": null},
"xOffset": {"field": "material", "type": "nominal", "scale": {"type": "band", "domain": ["CoCrMo", "Ti6Al4V", "DLC", "Zr-DLC"], "paddingInner": 0, "paddingOuter": 0}},
"y": {"field": "lo", "type": "quantitative", "scale": {"domain": [0, 0.45], "nice": false, "zero": true}, "axis": null}
}
},
{
"data": {"name": "bars"},
"mark": {"type": "tick", "orient": "horizontal", "color": "#222", "size": 10, "thickness": 1},
"encoding": {
"x": {"field": "group", "type": "nominal", "scale": {"type": "band", "domain": ["vs UHMWPE", "vs PEEK"], "paddingInner": 0.303, "paddingOuter": 0.1457}, "axis": null},
"xOffset": {"field": "material", "type": "nominal", "scale": {"type": "band", "domain": ["CoCrMo", "Ti6Al4V", "DLC", "Zr-DLC"], "paddingInner": 0, "paddingOuter": 0}},
"y": {"field": "hi", "type": "quantitative", "scale": {"domain": [0, 0.45], "nice": false, "zero": true}, "axis": null}
}
},
{
"data": {"name": "brackets"},
"mark": {"type": "line", "color": "#333", "strokeWidth": 1.5},
"encoding": {
"x": {"field": "group", "type": "nominal", "scale": {"type": "band", "domain": ["vs UHMWPE", "vs PEEK"], "paddingInner": 0.303, "paddingOuter": 0.1457}, "axis": null},
"xOffset": {"field": "material", "type": "nominal", "scale": {"type": "band", "domain": ["CoCrMo", "Ti6Al4V", "DLC", "Zr-DLC"], "paddingInner": 0, "paddingOuter": 0}},
"y": {"field": "y", "type": "quantitative", "scale": {"domain": [0, 0.45], "nice": false, "zero": true}, "axis": null},
"detail": {"field": "bracket", "type": "nominal"},
"order": {"field": "ord", "type": "quantitative"}
}
},
{
"data": {"name": "stars"},
"transform": [{"filter": "datum.pos === 'bar'"}],
"mark": {"type": "text", "font": "Liberation Sans", "fontSize": 30, "fontWeight": "bold", "color": "black", "align": "center", "baseline": "middle", "dy": 4.5},
"encoding": {
"x": {"field": "group", "type": "nominal", "scale": {"type": "band", "domain": ["vs UHMWPE", "vs PEEK"], "paddingInner": 0.303, "paddingOuter": 0.1457}, "axis": null},
"xOffset": {"field": "material", "type": "nominal", "scale": {"type": "band", "domain": ["CoCrMo", "Ti6Al4V", "DLC", "Zr-DLC"], "paddingInner": 0, "paddingOuter": 0}},
"y": {"field": "y", "type": "quantitative", "scale": {"domain": [0, 0.45], "nice": false, "zero": true}, "axis": null},
"text": {"field": "label"}
}
},
{
"data": {"name": "stars"},
"transform": [{"filter": "datum.pos === 'mid'"}],
"mark": {"type": "text", "font": "Liberation Sans", "fontSize": 30, "fontWeight": "bold", "color": "black", "align": "center", "baseline": "middle", "dy": 4.5},
"encoding": {
"x": {"field": "group", "type": "nominal", "scale": {"type": "band", "domain": ["vs UHMWPE", "vs PEEK"], "paddingInner": 0.303, "paddingOuter": 0.1457}, "axis": null},
"y": {"field": "y", "type": "quantitative", "scale": {"domain": [0, 0.45], "nice": false, "zero": true}, "axis": null},
"text": {"field": "label"}
}
},
{
"data": {"name": "bars"},
"mark": {"type": "point", "filled": true, "opacity": 0, "size": 441, "stroke": "#333", "strokeWidth": 1},
"encoding": {
"x": {"field": "group", "type": "nominal", "scale": {"type": "band", "domain": ["vs UHMWPE", "vs PEEK"], "paddingInner": 0.303, "paddingOuter": 0.1457}, "axis": null},
"xOffset": {"field": "material", "type": "nominal", "scale": {"type": "band", "domain": ["CoCrMo", "Ti6Al4V", "DLC", "Zr-DLC"], "paddingInner": 0, "paddingOuter": 0}},
"y": {"field": "value", "type": "quantitative", "scale": {"domain": [0, 0.45], "nice": false, "zero": true}, "axis": null},
"fill": {"field": "material", "type": "nominal",
 "scale": {"domain": ["CoCrMo", "Ti6Al4V", "DLC", "Zr-DLC"], "range": ["black", "white", "white", "white"]},
 "legend": {"title": null, "orient": "none", "legendX": 29, "legendY": 6, "padding": 0, "labelFont": "Liberation Sans", "labelFontSize": 23, "labelColor": "black", "labelOffset": 30, "rowPadding": 4.9, "symbolSize": 441, "symbolStrokeWidth": 1, "symbolStrokeColor": "#333", "symbolOpacity": 1,
  "encode": {"symbols": {"update": {"stroke": {"value": "#333"}, "strokeWidth": {"value": 1}, "opacity": {"value": 1}, "strokeOpacity": {"value": 1}}}}}},
"shape": {"field": "material", "type": "nominal",
 "scale": {"domain": ["CoCrMo", "Ti6Al4V", "DLC", "Zr-DLC"], "range": [
  "M-2.571,-1H2.571V1H-2.571Z",
  "M-2.571,-1H2.571V1H-2.571ZM-2.2,-1V1M-1.8,-1V1M-1.4,-1V1M-1,-1V1M-0.6,-1V1M-0.2,-1V1M0.2,-1V1M0.6,-1V1M1,-1V1M1.4,-1V1M1.8,-1V1M2.2,-1V1",
  "M-2.571,-1H2.571V1H-2.571ZM-2.2,-1V1M-1.8,-1V1M-1.4,-1V1M-1,-1V1M-0.6,-1V1M-0.2,-1V1M0.2,-1V1M0.6,-1V1M1,-1V1M1.4,-1V1M1.8,-1V1M2.2,-1V1M-2.571,-0.6H2.571M-2.571,-0.2H2.571M-2.571,0.2H2.571M-2.571,0.6H2.571",
  "M-2.571,-1H2.571V1H-2.571ZM-2.571,-0.729L-2.3,-1M-2.571,-0.129L-1.7,-1M-2.571,0.471L-1.1,-1M-2.5,1L-0.5,-1M-1.9,1L0.1,-1M-1.3,1L0.7,-1M-0.7,1L1.3,-1M-0.1,1L1.9,-1M0.5,1L2.5,-1M1.1,1L2.571,-0.471M1.7,1L2.571,0.129M2.3,1L2.571,0.729"]},
 "legend": {"title": null, "orient": "none", "legendX": 29, "legendY": 6, "padding": 0, "labelFont": "Liberation Sans", "labelFontSize": 23, "labelColor": "black", "labelOffset": 30, "rowPadding": 4.9, "symbolSize": 441, "symbolStrokeWidth": 1, "symbolStrokeColor": "#333", "symbolOpacity": 1,
  "encode": {"symbols": {"update": {"stroke": {"value": "#333"}, "strokeWidth": {"value": 1}, "opacity": {"value": 1}, "strokeOpacity": {"value": 1}}}}}}
}
}
]
}
